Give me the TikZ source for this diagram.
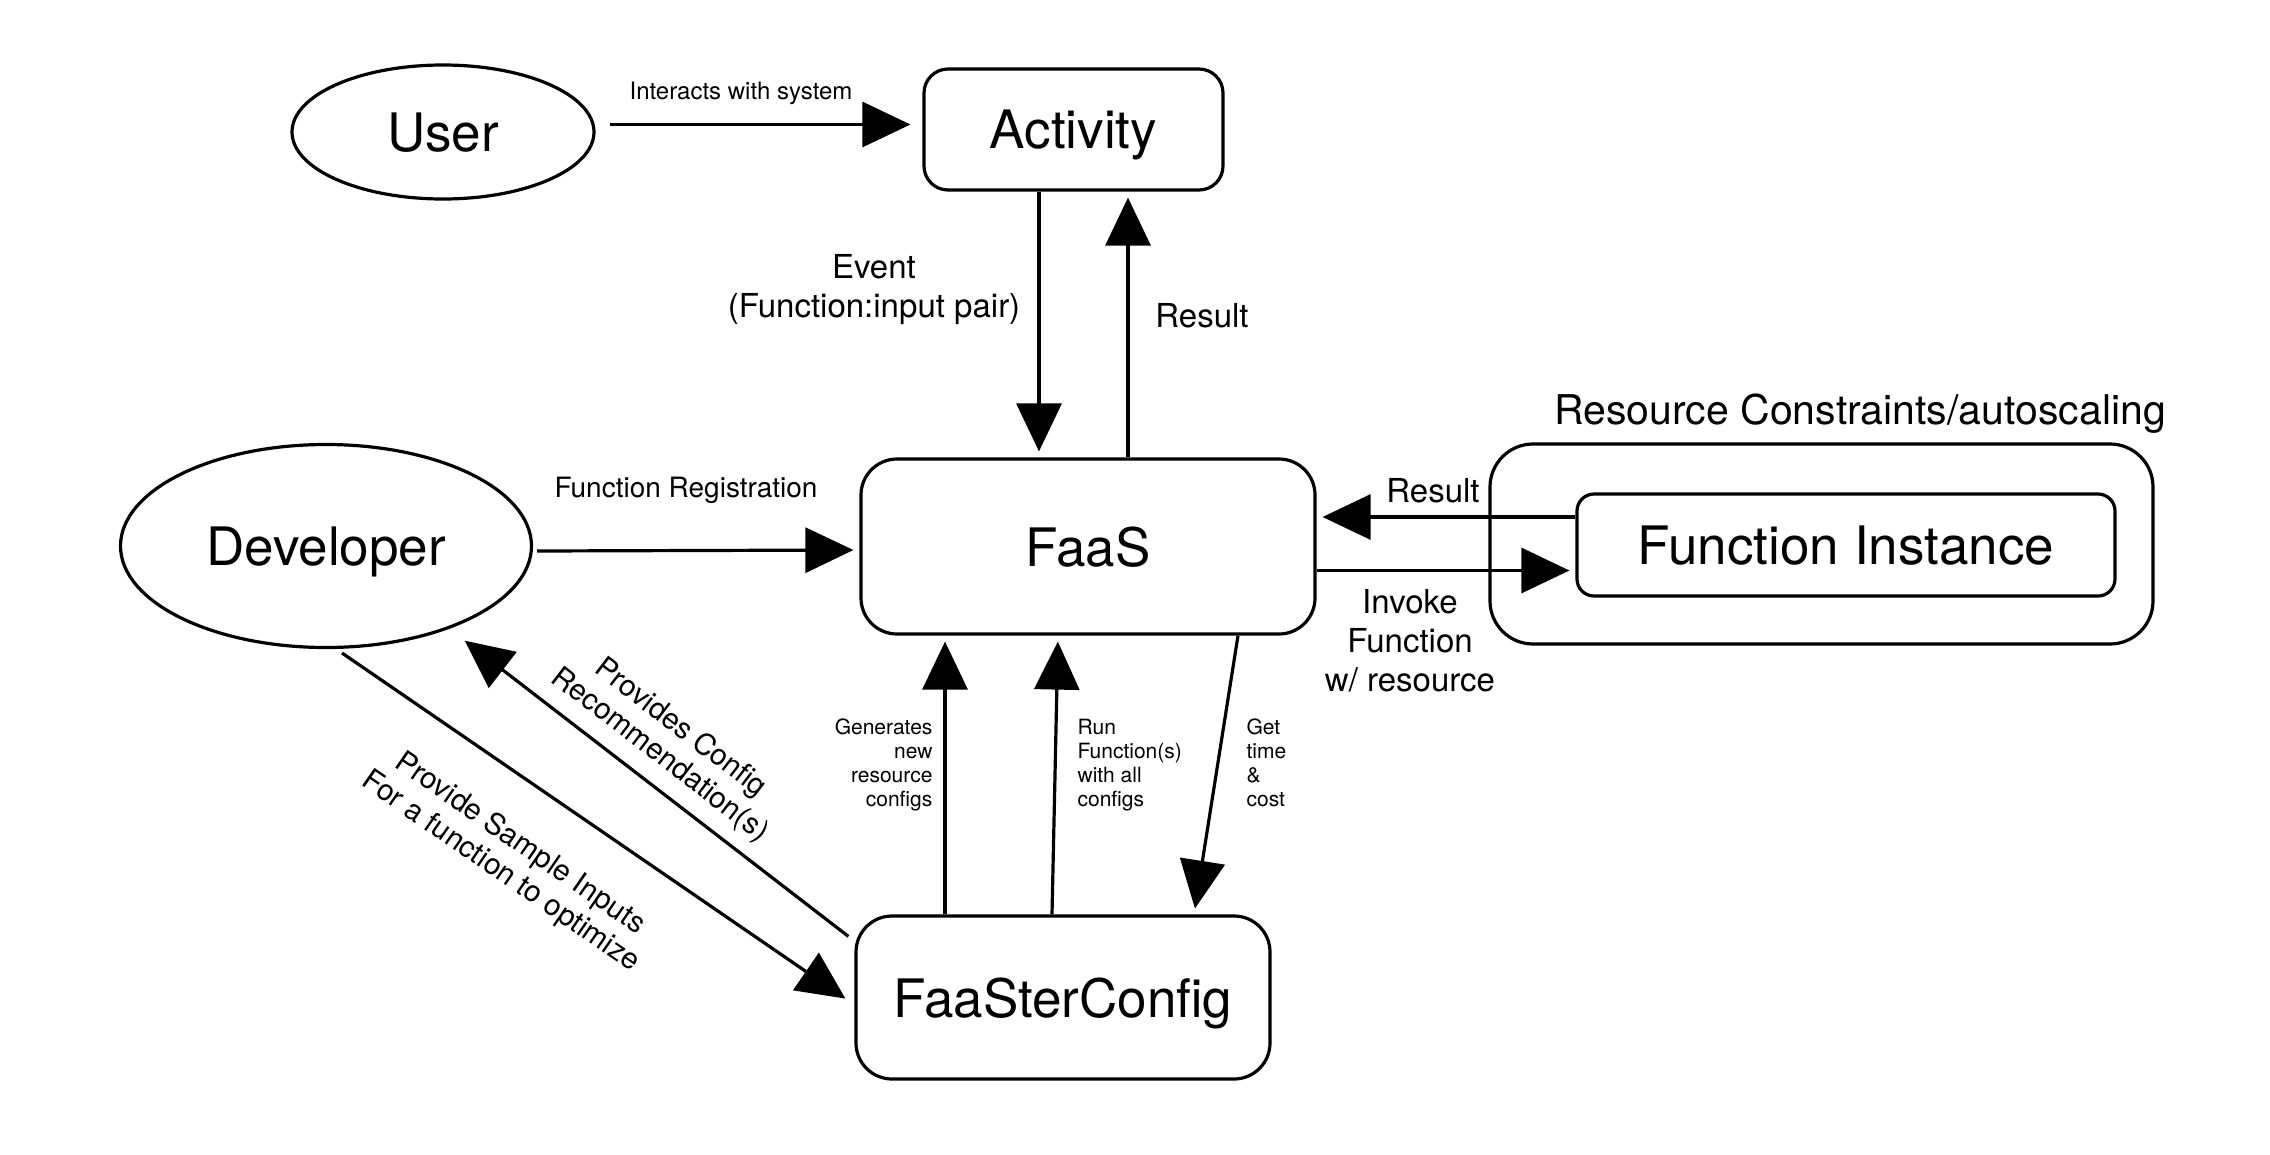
\documentclass[tikz,border=0pt]{standalone}
\usepackage{fontspec}
\setmainfont{TeX Gyre Heros}
\usetikzlibrary{arrows.meta,shapes.geometric}
\begin{document}
\begin{tikzpicture}[x=1pt,y=-1pt,line width=3.2pt,
  bigtext/.style={font=\fontsize{53}{60}\selectfont,text depth=0pt},
  oval/.style={draw,ellipse,inner sep=0pt,bigtext},
  box/.style={draw,rectangle,inner sep=0pt,bigtext},
  arr/.style={-{Triangle[length=48pt,width=45pt]},shorten >=6pt},
  lblA/.style={font=\fontsize{33}{39}\selectfont,align=center,inner sep=0pt},
  lblB/.style={font=\fontsize{28}{33}\selectfont,align=center,inner sep=0pt},
  lblC/.style={font=\fontsize{24}{28}\selectfont,inner sep=0pt},
  lblS/.style={font=\fontsize{21}{24}\selectfont,inner sep=0pt},
  lblR/.style={font=\fontsize{29.5}{34}\selectfont,align=center,inner sep=0pt}]
\useasboundingbox (0,0) rectangle (2270,1154);

\node[oval,minimum width=302pt,minimum height=134pt] (user) at (443,132) {User};
\node[box,rounded corners=24pt,minimum width=299pt,minimum height=121pt] (act) at (1073.5,129.5) {Activity};
\node[box,rounded corners=36pt,minimum width=454pt,minimum height=175pt] (faas) at (1088,546.5) {FaaS};
\node[oval,minimum width=411pt,minimum height=203pt] (dev) at (326,546) {Developer};
\node[draw,rectangle,rounded corners=43pt,minimum width=663pt,minimum height=200pt] (cont) at (1821.5,544) {};
\node[box,rounded corners=17pt,minimum width=538pt,minimum height=102pt] (fi) at (1846,545) {Function Instance};
\node[box,rounded corners=36pt,minimum width=414pt,minimum height=163pt] (fsc) at (1063,997.5) {FaaSterConfig};

\node[font=\fontsize{41}{48}\selectfont,inner sep=0pt] (rclbl) at (1860,414) {Resource Constraints/autoscaling};

% User -> Activity
\draw[arr] ([xshift=14pt,yshift=7.5pt]user.east) -- ([xshift=-6pt,yshift=5pt]act.west);
\node[lblC] (l1) at (741,93) {Interacts with system};

% Activity <-> FaaS
\draw[arr] ([xshift=-34.5pt]act.south) -- ([xshift=-34.5pt]act.south |- faas.north);
\node[lblA] (l2) at (874,290) {Event\\(Function:input pair)};
\draw[arr] ([xshift=40pt]faas.north) -- ([xshift=40pt]faas.north |- act.south);
\node[lblA] (l3) at (1202,316) {Result};

% Developer -> FaaS
\draw[arr] ([xshift=4pt,yshift=-5pt]dev.east) -- ([yshift=-3.5pt]faas.west);
\node[lblB] (l4) at (686,490) {Function Registration};

% FaaS <-> Function Instance
\draw[arr] ([yshift=28pt]fi.west) -- ([yshift=28pt]fi.west -| faas.east);
\node[lblA] (l5) at (1433,491) {Result};
\draw[arr] ([yshift=-24pt]faas.east) -- ([yshift=-24pt]faas.east -| fi.west);
\node[lblA] (l6) at (1410,641) {Invoke\\Function\\w/ resource};

% FaaSterConfig <-> FaaS
\draw[arr] ([xshift=-118pt]fsc.north) -- ([xshift=-118pt]fsc.north |- faas.south);
\node[lblS,align=right,anchor=east] (l7) at (934,765) {Generates\\new\\resource\\configs};
\draw[arr] ([xshift=-11pt]fsc.north) -- ([xshift=-30pt]faas.south);
\node[lblS,align=left,anchor=west] (l8) at (1076,765) {Run\\Function(s)\\with all\\configs};
\draw[arr] ([xshift=150pt]faas.south) -- ([xshift=131pt]fsc.north);
\node[lblS,align=left,anchor=west] (l9) at (1245,763) {Get\\time\\\&\\cost};

% FaaSterConfig <-> Developer
\draw[arr] ([shift={(-6pt,-22pt)}]fsc.north west) -- ([shift={(134pt,-91pt)}]dev.center);
\node[lblR,rotate=-37.5] (l10) at (670,742) {Provides Config\\Recommendation(s)};
\draw[arr] ([shift={(16pt,-107pt)}]dev.center) -- ([shift={(-4pt,-4.5pt)}]fsc.west);
\node[lblR,rotate=-34.6] (l11) at (510,858) {Provide Sample Inputs\\For a function to optimize};
\end{tikzpicture}
\end{document}
